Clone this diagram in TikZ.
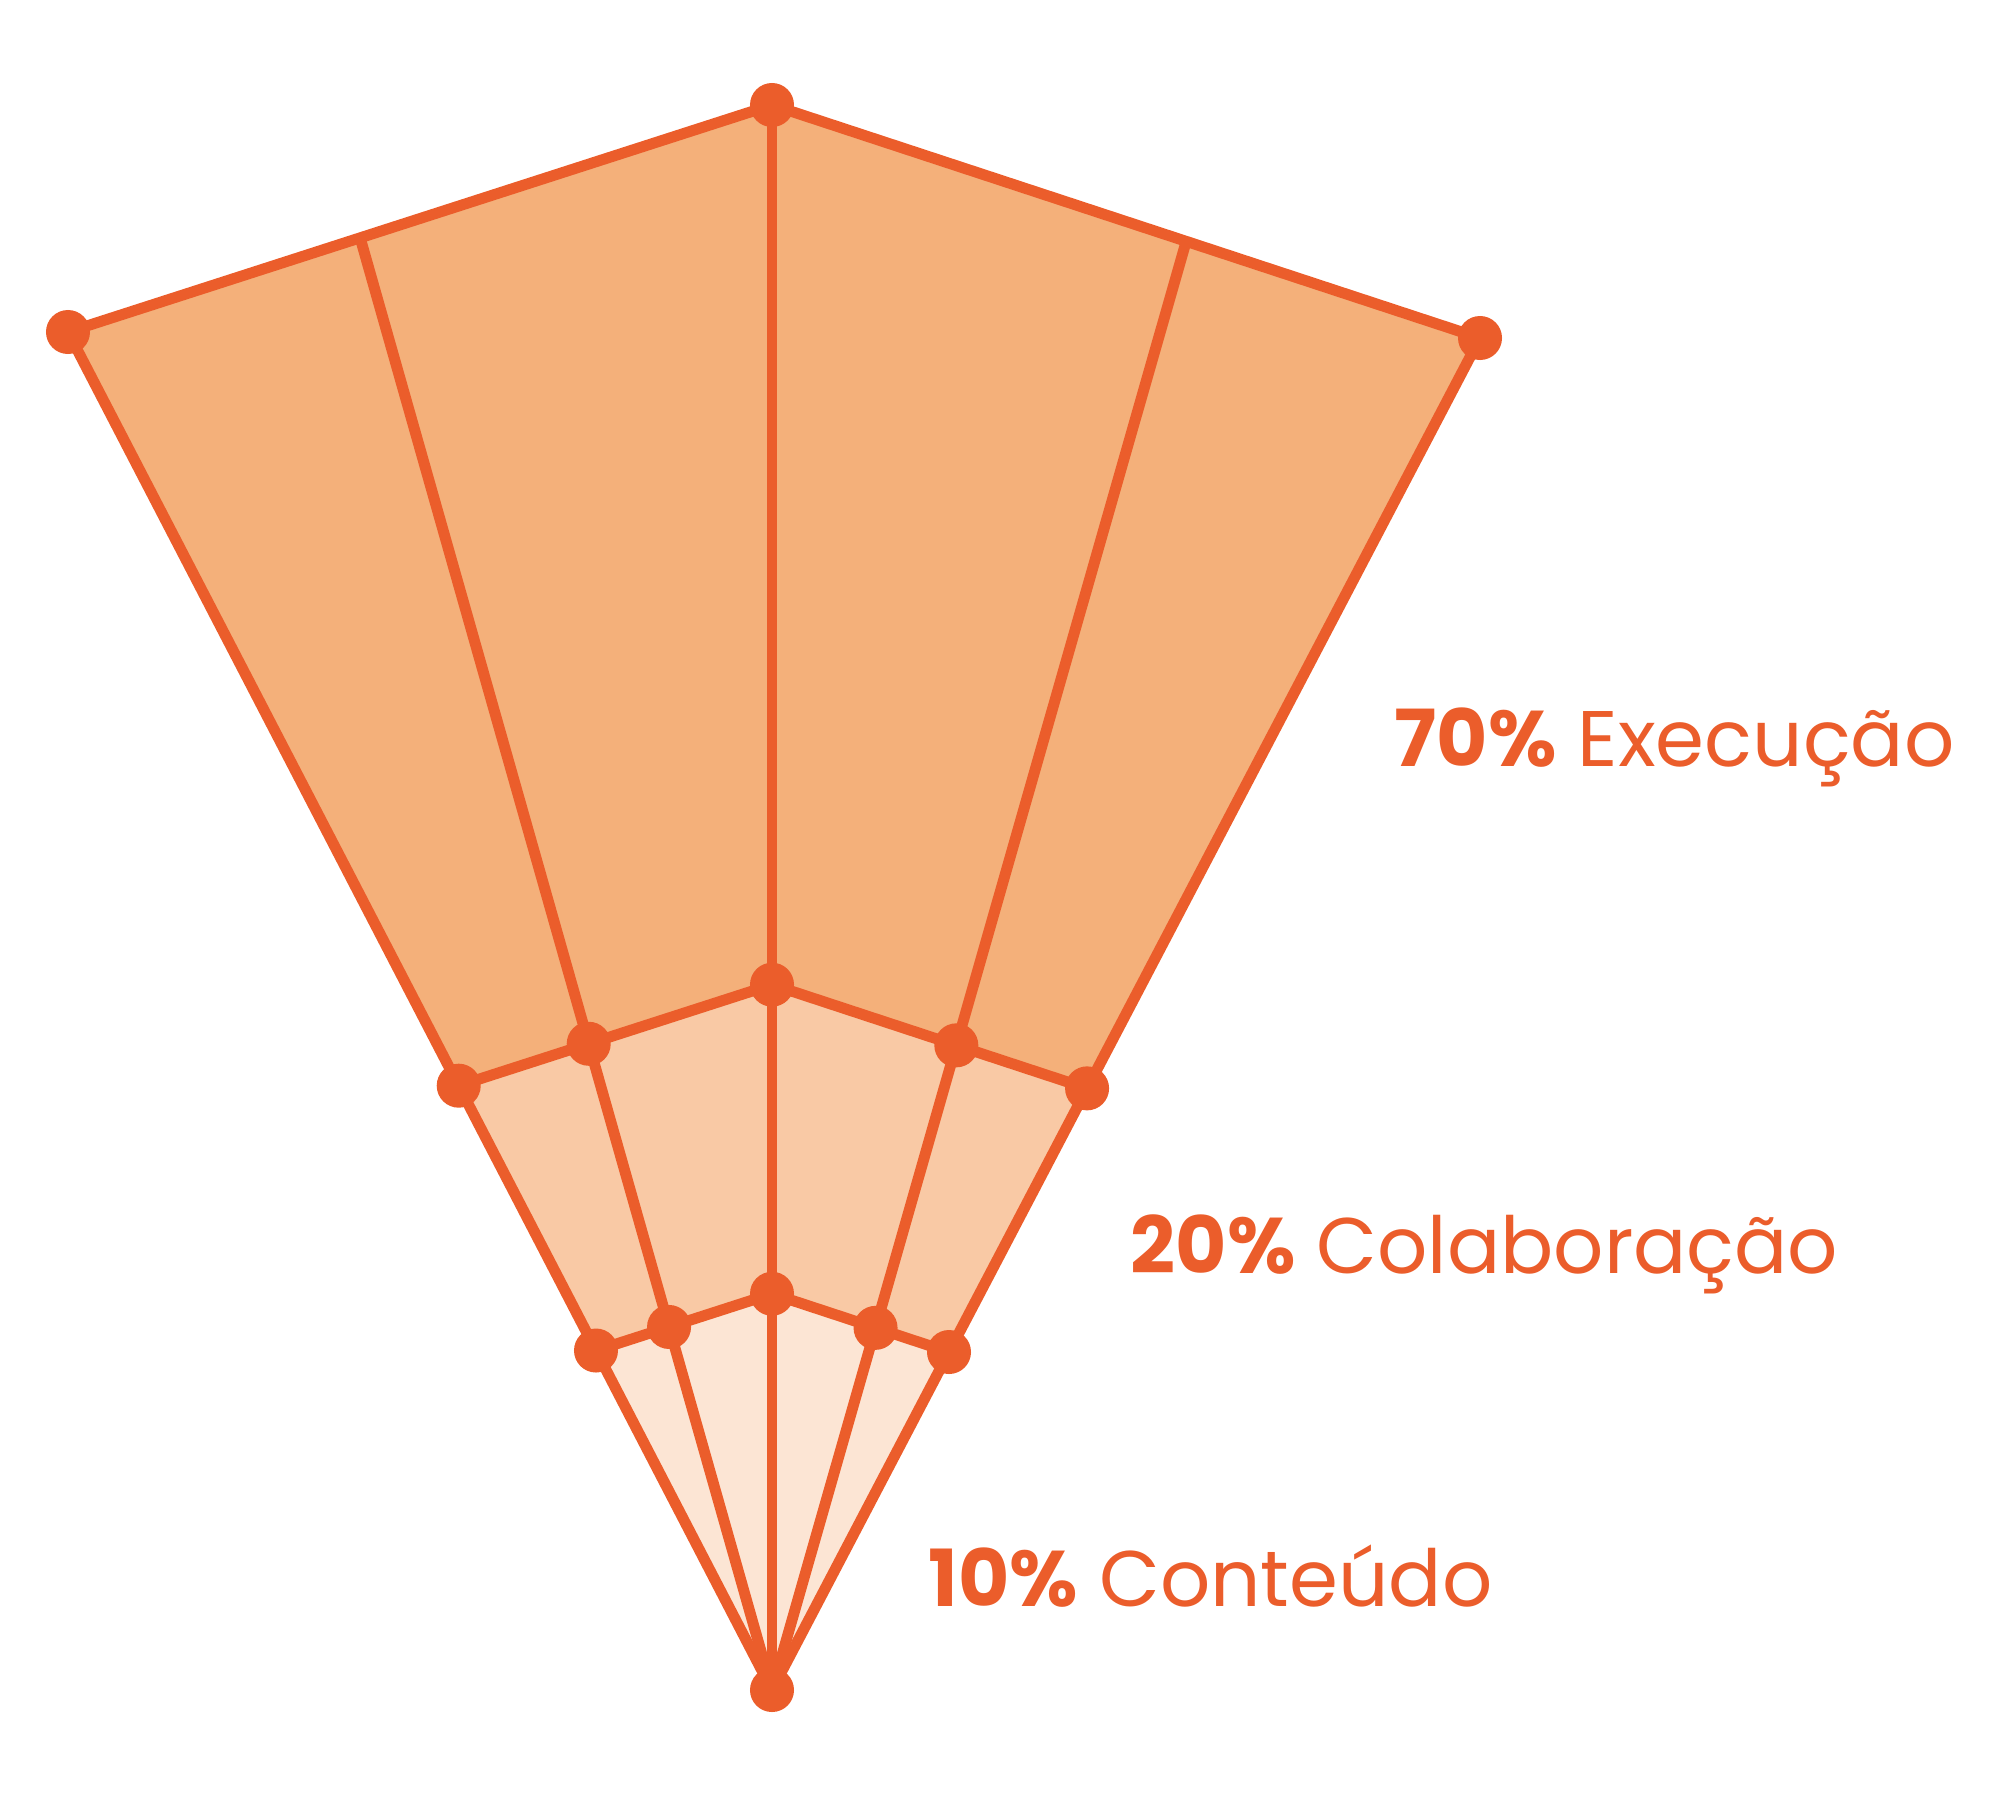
\documentclass[tikz,border=0pt]{standalone}
\usepackage{fontspec}
\setmainfont{Poppins}
\usetikzlibrary{calc}
\definecolor{ln}{HTML}{EB5D2B}
\definecolor{fA}{HTML}{F4B07A}
\definecolor{fB}{HTML}{F9C9A5}
\definecolor{fC}{HTML}{FCE5D4}
\begin{document}
\begin{tikzpicture}[x=0.01cm,y=-0.01cm,
  edge/.style={draw=ln,line width=3.1pt,line join=round},
  dot/.style={circle,fill=ln,minimum size=0.44cm,inner sep=0pt},
  lbl/.style={anchor=base west,inner sep=0pt,text=ln,font=\fontsize{22.4}{27}\selectfont}]
\useasboundingbox (0,0) rectangle (2000,1796);
\coordinate (B) at (772,1690);
\coordinate (L) at (68,332);
\coordinate (T) at (772,105);
\coordinate (R) at (1480,338);
\coordinate (TL) at ($(L)!0.415!(T)$);
\coordinate (TR) at ($(T)!0.585!(R)$);
\foreach \n/\p in {1/L,2/TL,3/T,4/TR,5/R}{
  \coordinate (M\n) at ($(B)!0.445!(\p)$);
  \coordinate (N\n) at ($(B)!0.25!(\p)$);
}
% fills
\fill[fA] (L) -- (T) -- (R) -- (M5) -- (M3) -- (M1) -- cycle;
\fill[fB] (M1) -- (M3) -- (M5) -- (N5) -- (N3) -- (N1) -- cycle;
\fill[fC] (N1) -- (N3) -- (N5) -- (B) -- cycle;
% lines
\draw[edge] (L) -- (T) -- (R);
\draw[edge] (M1) -- (M3) -- (M5);
\draw[edge] (N1) -- (N3) -- (N5);
\draw[edge] (B) -- (L);
\draw[edge] (B) -- (TL);
\draw[edge] (B) -- (T);
\draw[edge] (B) -- (TR);
\draw[edge] (B) -- (R);
% dots
\node[dot] (dL) at (L) {};
\node[dot] (dT) at (T) {};
\node[dot] (dR) at (R) {};
\node[dot] (dB) at (B) {};
\foreach \n in {1,...,5}{
  \node[dot] (dM\n) at (M\n) {};
  \node[dot] (dN\n) at (N\n) {};
}
% labels
\node[lbl] (t70) at (1394,766) {\textbf{70\%} Execução};
\node[lbl] (t20) at (1130,1273) {\textbf{20\%} Colaboração};
\node[lbl] (t10) at (928,1606) {\textbf{10\%} Conteúdo};
\end{tikzpicture}
\end{document}
